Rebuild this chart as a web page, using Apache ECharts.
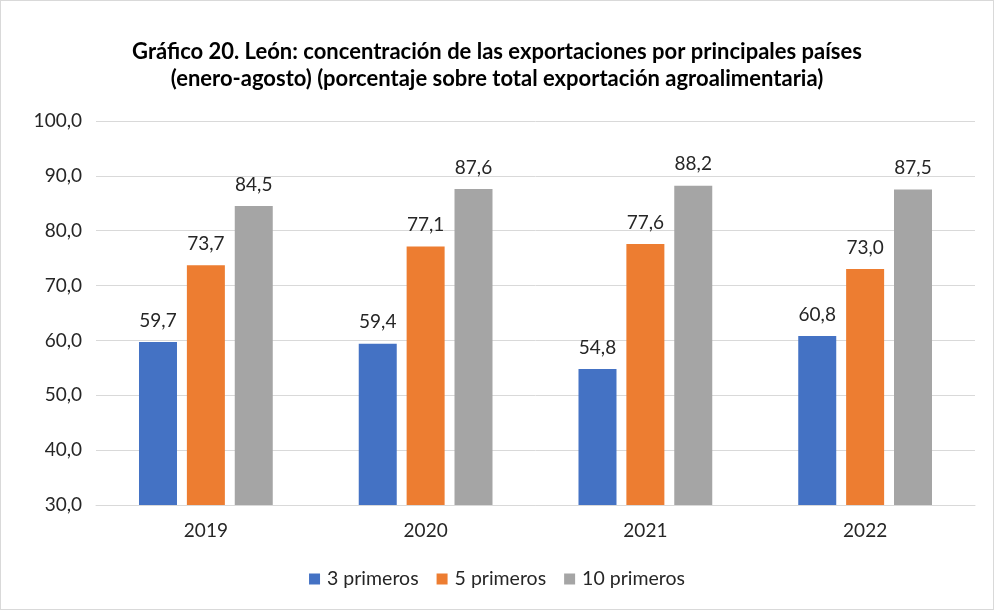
<!DOCTYPE html>
<html>
<head>
<meta charset="utf-8">
<script src="https://cdn.jsdelivr.net/npm/echarts@6/dist/echarts.min.js"></script>
<style>
  html, body { margin: 0; padding: 0; background: #fff; }
  #chart { width: 994px; height: 610px; box-sizing: border-box; border: 1px solid #d9d9d9; }
</style>
</head>
<body>
<div id="chart"></div>
<script>
const years = ["2019", "2020", "2021", "2022"];
const top3 = [59.7, 59.4, 54.8, 60.8];
const top5 = [73.7, 77.1, 77.6, 73.0];
const top10 = [84.5, 87.6, 88.2, 87.5];
const seriesNames = ["3 primeros", "5 primeros", "10 primeros"];
const colors = ["#4472C4", "#ED7D31", "#A5A5A5"];

const fmt = v => v.toFixed(1).replace(".", ",");
const font = "Lato, 'Open Sans', sans-serif";
const textColor = "#262626";

const chart = echarts.init(document.getElementById("chart"));

const makeSeries = (name, data, color) => ({
  name,
  type: "bar",
  data,
  barWidth: 38,
  barGap: "26%",
  itemStyle: { color },
  label: {
    show: true,
    position: "top",
    distance: 12,
    color: textColor,
    fontSize: 19,
    fontFamily: font,
    formatter: p => fmt(p.value)
  }
});

chart.setOption({
  animation: false,
  title: {
    text: "Gráfico 20. León: concentración de las exportaciones por principales países\n(enero-agosto) (porcentaje sobre total exportación agroalimentaria)",
    left: "center",
    top: 32,
    textStyle: {
      fontFamily: font,
      fontWeight: "bold",
      fontSize: 22,
      lineHeight: 27,
      color: "#000"
    }
  },
  legend: {
    bottom: 15,
    left: "center",
    itemWidth: 11,
    itemHeight: 11,
    itemGap: 18,
    icon: "rect",
    textStyle: { fontFamily: font, fontSize: 19.5, color: textColor, padding: [0, 0, 0, 2] },
    data: seriesNames
  },
  grid: { left: 95, right: 18, top: 120, bottom: 104, containLabel: false },
  xAxis: {
    type: "category",
    data: years,
    axisTick: { show: false },
    axisLine: { lineStyle: { color: "#d9d9d9" } },
    axisLabel: { fontFamily: font, fontSize: 19, color: textColor, margin: 16 }
  },
  yAxis: {
    type: "value",
    min: 30,
    max: 100,
    interval: 10,
    axisLine: { show: false },
    axisTick: { show: false },
    axisLabel: { fontFamily: font, fontSize: 19, color: textColor, margin: 14, formatter: v => fmt(v) },
    splitLine: { lineStyle: { color: "#d9d9d9" } }
  },
  series: [
    makeSeries(seriesNames[0], top3, colors[0]),
    makeSeries(seriesNames[1], top5, colors[1]),
    makeSeries(seriesNames[2], top10, colors[2])
  ]
});
</script>
</body>
</html>
